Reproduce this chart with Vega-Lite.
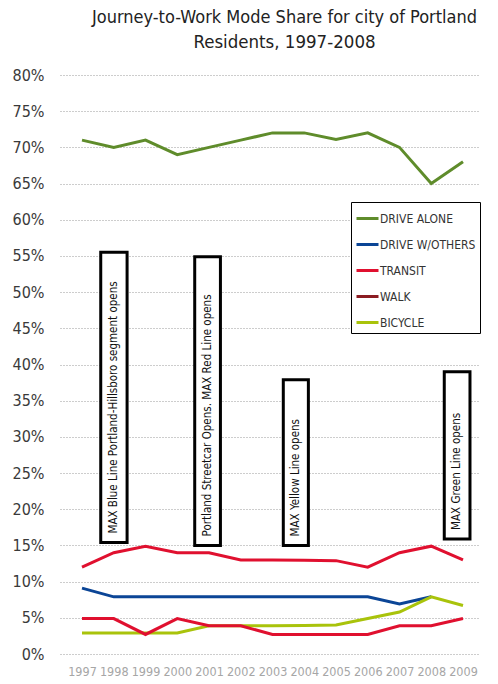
{
  "$schema": "https://vega.github.io/schema/vega-lite/v6.json",
  "width": 419,
  "height": 579,
  "autosize": {"type": "none"},
  "padding": {"left": 60, "top": 75, "right": 19, "bottom": 30},
  "background": "white",
  "title": {
    "text": "Journey-to-Work Mode Share for city of Portland",
    "subtitle": "Residents, 1997-2008",
    "font": "Liberation Sans Narrow, DejaVu Sans Condensed, sans-serif",
    "fontSize": 18,
    "fontWeight": "normal",
    "color": "#222222",
    "subtitleFont": "Liberation Sans Narrow, DejaVu Sans Condensed, sans-serif",
    "subtitleFontSize": 18.5,
    "subtitleColor": "#222222",
    "subtitlePadding": 6,
    "anchor": "middle",
    "frame": "group",
    "dx": 15,
    "offset": 16
  },
  "datasets": {
    "modes": [
      {"year": 1997, "mode": "DRIVE ALONE", "share": 71},
      {"year": 1998, "mode": "DRIVE ALONE", "share": 70},
      {"year": 1999, "mode": "DRIVE ALONE", "share": 71},
      {"year": 2000, "mode": "DRIVE ALONE", "share": 69},
      {"year": 2001, "mode": "DRIVE ALONE", "share": 70},
      {"year": 2002, "mode": "DRIVE ALONE", "share": 71},
      {"year": 2003, "mode": "DRIVE ALONE", "share": 72},
      {"year": 2004, "mode": "DRIVE ALONE", "share": 72},
      {"year": 2005, "mode": "DRIVE ALONE", "share": 71.1},
      {"year": 2006, "mode": "DRIVE ALONE", "share": 72},
      {"year": 2007, "mode": "DRIVE ALONE", "share": 70},
      {"year": 2008, "mode": "DRIVE ALONE", "share": 65},
      {"year": 2009, "mode": "DRIVE ALONE", "share": 68},
      {"year": 1997, "mode": "DRIVE W/OTHERS", "share": 9.1},
      {"year": 1998, "mode": "DRIVE W/OTHERS", "share": 7.9},
      {"year": 1999, "mode": "DRIVE W/OTHERS", "share": 7.9},
      {"year": 2000, "mode": "DRIVE W/OTHERS", "share": 7.9},
      {"year": 2001, "mode": "DRIVE W/OTHERS", "share": 7.9},
      {"year": 2002, "mode": "DRIVE W/OTHERS", "share": 7.9},
      {"year": 2003, "mode": "DRIVE W/OTHERS", "share": 7.9},
      {"year": 2004, "mode": "DRIVE W/OTHERS", "share": 7.9},
      {"year": 2005, "mode": "DRIVE W/OTHERS", "share": 7.9},
      {"year": 2006, "mode": "DRIVE W/OTHERS", "share": 7.9},
      {"year": 2007, "mode": "DRIVE W/OTHERS", "share": 6.9},
      {"year": 2008, "mode": "DRIVE W/OTHERS", "share": 7.9},
      {"year": 1997, "mode": "TRANSIT", "share": 12},
      {"year": 1998, "mode": "TRANSIT", "share": 14},
      {"year": 1999, "mode": "TRANSIT", "share": 14.9},
      {"year": 2000, "mode": "TRANSIT", "share": 14},
      {"year": 2001, "mode": "TRANSIT", "share": 14},
      {"year": 2002, "mode": "TRANSIT", "share": 13},
      {"year": 2003, "mode": "TRANSIT", "share": 13},
      {"year": 2004, "mode": "TRANSIT", "share": 12.95},
      {"year": 2005, "mode": "TRANSIT", "share": 12.9},
      {"year": 2006, "mode": "TRANSIT", "share": 12},
      {"year": 2007, "mode": "TRANSIT", "share": 14},
      {"year": 2008, "mode": "TRANSIT", "share": 14.9},
      {"year": 2009, "mode": "TRANSIT", "share": 13},
      {"year": 1997, "mode": "WALK", "share": 4.9},
      {"year": 1998, "mode": "WALK", "share": 4.9},
      {"year": 1999, "mode": "WALK", "share": 2.7},
      {"year": 2000, "mode": "WALK", "share": 4.9},
      {"year": 2001, "mode": "WALK", "share": 3.9},
      {"year": 2002, "mode": "WALK", "share": 3.9},
      {"year": 2003, "mode": "WALK", "share": 2.7},
      {"year": 2004, "mode": "WALK", "share": 2.7},
      {"year": 2005, "mode": "WALK", "share": 2.7},
      {"year": 2006, "mode": "WALK", "share": 2.7},
      {"year": 2007, "mode": "WALK", "share": 3.9},
      {"year": 2008, "mode": "WALK", "share": 3.9},
      {"year": 2009, "mode": "WALK", "share": 4.9},
      {"year": 1997, "mode": "BICYCLE", "share": 2.9},
      {"year": 1998, "mode": "BICYCLE", "share": 2.9},
      {"year": 1999, "mode": "BICYCLE", "share": 2.9},
      {"year": 2000, "mode": "BICYCLE", "share": 2.9},
      {"year": 2001, "mode": "BICYCLE", "share": 3.9},
      {"year": 2002, "mode": "BICYCLE", "share": 3.9},
      {"year": 2003, "mode": "BICYCLE", "share": 3.9},
      {"year": 2004, "mode": "BICYCLE", "share": 3.95},
      {"year": 2005, "mode": "BICYCLE", "share": 4},
      {"year": 2006, "mode": "BICYCLE", "share": 4.9},
      {"year": 2007, "mode": "BICYCLE", "share": 5.8},
      {"year": 2008, "mode": "BICYCLE", "share": 7.9},
      {"year": 2009, "mode": "BICYCLE", "share": 6.7}
    ],
    "events": [
      {"x": 1997.59, "x2": 1998.42, "y": 15.4, "y2": 55.5, "label": "MAX Blue Line Portland-Hillsboro segment opens"},
      {"x": 2000.55, "x2": 2001.36, "y": 15.0, "y2": 54.9, "label": "Portland Streetcar Opens. MAX Red Line opens"},
      {"x": 2003.34, "x2": 2004.13, "y": 15.0, "y2": 37.9, "label": "MAX Yellow Line opens"},
      {"x": 2008.41, "x2": 2009.22, "y": 15.9, "y2": 39.0, "label": "MAX Green Line opens"}
    ]
  },
  "encoding": {
    "x": {
      "field": "year", "type": "quantitative",
      "scale": {"domain": [1996.307, 2009.504], "nice": false, "zero": false},
      "axis": {
        "values": [1997, 1998, 1999, 2000, 2001, 2002, 2003, 2004, 2005, 2006, 2007, 2008, 2009],
        "format": "d", "title": null, "grid": false, "domain": false, "ticks": false,
        "labelOverlap": false,
        "labelColor": "#a6a6a6", "labelFontSize": 12.5, "labelPadding": 11,
        "labelFont": "Liberation Sans Narrow, DejaVu Sans Condensed, sans-serif"
      }
    },
    "y": {
      "field": "share", "type": "quantitative",
      "scale": {"domain": [0, 80], "nice": false},
      "axis": {
        "values": [0, 5, 10, 15, 20, 25, 30, 35, 40, 45, 50, 55, 60, 65, 70, 75, 80],
        "labelExpr": "datum.value + '%'", "title": null,
        "domain": false, "ticks": false, "grid": true, "labelOverlap": false,
        "gridColor": "#9a9a9a", "gridDash": [1, 2], "gridWidth": 1,
        "labelColor": "#3a3a3a", "labelFontSize": 16, "labelPadding": 16,
        "labelFont": "Liberation Sans Narrow, DejaVu Sans Condensed, sans-serif"
      }
    }
  },
  "layer": [
    {
      "data": {"name": "modes"},
      "transform": [{"filter": "datum.mode !== 'WALK'"}],
      "mark": {"type": "line", "strokeWidth": 3, "strokeJoin": "miter"},
      "encoding": {
        "color": {
          "field": "mode", "type": "nominal",
          "scale": {
            "domain": ["DRIVE ALONE", "DRIVE W/OTHERS", "TRANSIT", "WALK", "BICYCLE"],
            "range": ["#5f8c2b", "#0b4596", "#e0102f", "#8b1c22", "#a9c30b"]
          },
          "legend": {
            "title": null, "orient": "none", "legendX": 291, "legendY": 127,
            "fillColor": "white", "strokeColor": "#000000", "padding": 4,
            "symbolType": "stroke", "symbolSize": 484, "symbolStrokeWidth": 3,
            "labelFontSize": 12, "labelColor": "#333333", "labelOffset": 0,
            "rowPadding": 7,
            "labelFont": "Liberation Sans Narrow, DejaVu Sans Condensed, sans-serif"
          }
        }
      }
    },
    {
      "data": {"name": "modes"},
      "transform": [{"filter": "datum.mode === 'WALK'"}],
      "mark": {"type": "line", "strokeWidth": 3, "color": "#e0102f", "strokeJoin": "miter"}
    },
    {
      "data": {"name": "events"},
      "mark": {"type": "rect", "fill": "white", "stroke": "#000000", "strokeWidth": 3},
      "encoding": {
        "x": {"field": "x", "type": "quantitative"},
        "x2": {"field": "x2"},
        "y": {"field": "y", "type": "quantitative"},
        "y2": {"field": "y2"}
      }
    },
    {
      "data": {"name": "events"},
      "transform": [{"calculate": "(datum.x + datum.x2) / 2", "as": "xc"}],
      "mark": {
        "type": "text", "angle": 270, "align": "left", "baseline": "middle",
        "dx": 9, "fontSize": 11.5, "color": "#111111",
        "font": "Liberation Sans Narrow, DejaVu Sans Condensed, sans-serif"
      },
      "encoding": {
        "x": {"field": "xc", "type": "quantitative"},
        "y": {"field": "y", "type": "quantitative"},
        "text": {"field": "label"}
      }
    }
  ],
  "config": {"view": {"stroke": null}, "axis": {"labelOverlap": false}}
}
